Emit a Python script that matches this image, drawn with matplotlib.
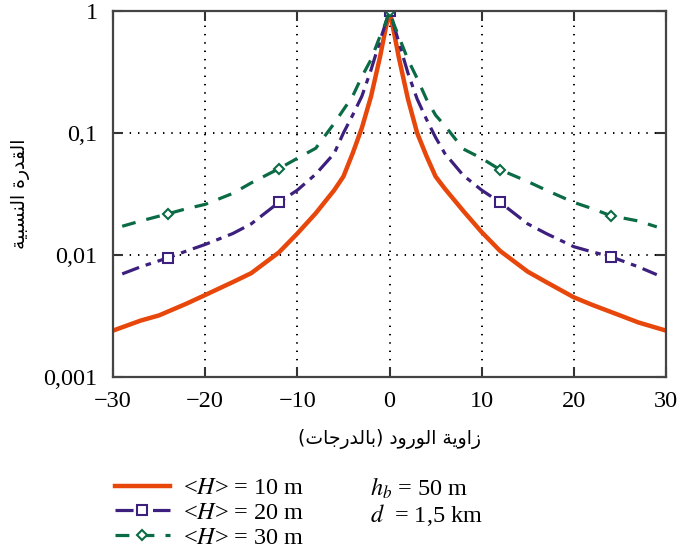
import numpy as np
import matplotlib
matplotlib.use("Agg")
import matplotlib.pyplot as plt
from matplotlib.ticker import FixedLocator, FixedFormatter, NullLocator

plt.rcParams['font.family'] = ['Liberation Serif', 'DejaVu Sans']
plt.rcParams['mathtext.fontset'] = 'stix'
plt.rcParams['lines.scale_dashes'] = False

# relative power vs incidence angle, for three mean building heights
angles_10 = [-30, -27, -25, -22, -20, -17, -15, -12, -10, -8, -6, -5, -4, -3, -2, -1, -0.5, 0,
             0.5, 1, 2, 3, 4, 5, 6, 8, 10, 12, 15, 17, 20, 22, 25, 27, 30]
power_10 = [0.0024, 0.0029, 0.0032, 0.0040, 0.0047, 0.0060, 0.0071, 0.0105, 0.0150, 0.022,
            0.034, 0.044, 0.068, 0.11, 0.20, 0.43, 0.67, 1.0,
            0.66, 0.42, 0.19, 0.10, 0.065, 0.044, 0.035, 0.023, 0.0154, 0.0108,
            0.0073, 0.0060, 0.0045, 0.0039, 0.0032, 0.0028, 0.0024]

angles_20 = [-29, -27, -24, -22, -20, -17, -15, -12, -10, -8, -6, -5, -4, -3, -2, -1, -0.5, 0,
             0.5, 1, 2, 3, 4, 5, 6, 8, 10, 12, 15, 17, 20, 22, 24, 27, 29]
power_20 = [0.0070, 0.0080, 0.0095, 0.0108, 0.0122, 0.0150, 0.018, 0.027, 0.034, 0.046,
            0.068, 0.10, 0.14, 0.20, 0.33, 0.58, 0.76, 1.0,
            0.75, 0.56, 0.31, 0.19, 0.13, 0.092, 0.068, 0.045, 0.034, 0.027,
            0.018, 0.0150, 0.0117, 0.0106, 0.0097, 0.0080, 0.0069]

angles_30 = angles_20
power_30 = [0.0172, 0.019, 0.0218, 0.024, 0.026, 0.032, 0.039, 0.051, 0.062, 0.075,
            0.12, 0.155, 0.20, 0.29, 0.40, 0.63, 0.77, 1.0,
            0.77, 0.62, 0.40, 0.28, 0.19, 0.14, 0.115, 0.074, 0.062, 0.050,
            0.040, 0.034, 0.027, 0.024, 0.021, 0.019, 0.017]

marker_angles = [-24, -12, 0, 12, 24]

x_ticks = [-30, -20, -10, 0, 10, 20, 30]
x_ticklabels = ['\u221230', '\u221220', '\u221210', '0', '10', '20', '30']
y_ticks = [0.001, 0.01, 0.1, 1]
y_ticklabels = ['0,001', '0,01', '0,1', '1']

labels = ['<$H$> = 10 m', '<$H$> = 20 m', '<$H$> = 30 m']

# Arabic labels, pre-shaped (presentation forms, visual order)
ylabel_ar = '\uFE94\uFEF4\uFE92\uFEB4\uFEE8\uFEDF\uFE8D \uFE93\uFEAD\uFEAA\uFED8\uFEDF\uFE8D'
xlabel_ar = ('(\uFE95\uFE8E\uFE9F\uFEAD\uFEAA\uFEDF\uFE8E\uFE91) '
             '\uFEA9\uFEED\uFEAD\uFEEE\uFEDF\uFE8D '
             '\uFE94\uFEF3\uFEED\uFE8D\uFEAF')

c_orange = '#E8470C'
c_purple = '#3D1F7E'
c_green = '#0A6B45'

fig = plt.figure(figsize=(6.78, 5.51), dpi=100)
ax = fig.add_axes([113 / 678, 1 - 377 / 551, 553 / 678, 366 / 551])

def mark_idx(angles):
    return list(np.where(np.isin(angles, marker_angles))[0])

l1, = ax.plot(angles_10, power_10, color=c_orange, lw=3.2, solid_joinstyle='round')
l2, = ax.plot(angles_20, power_20, color=c_purple, lw=2.3,
              marker='s', ms=7, mfc='white', mec=c_purple, mew=1.5,
              markevery=mark_idx(angles_20))
l2.set_dashes((13, 5, 4, 5))
l3, = ax.plot(angles_30, power_30, color=c_green, lw=2.3,
              marker='D', ms=5, mfc='white', mec=c_green, mew=1.5,
              markevery=mark_idx(angles_30))
l3.set_dashes((10, 8))

ax.set_yscale('log')
ax.set_xlim(-30, 30)
ax.set_ylim(0.001, 1)
ax.xaxis.set_major_locator(FixedLocator(x_ticks))
ax.xaxis.set_major_formatter(FixedFormatter(x_ticklabels))
ax.yaxis.set_major_locator(FixedLocator(y_ticks))
ax.yaxis.set_major_formatter(FixedFormatter(y_ticklabels))
ax.yaxis.set_minor_locator(NullLocator())

ax.grid(True, which='major', color='black', lw=1.4, linestyle=(0, (1, 5)))
ax.tick_params(direction='in', length=7, width=1.5, top=True, right=True,
               labelsize=17.5, color='#333333')
ax.tick_params(axis='x', pad=10)
ax.tick_params(axis='y', pad=11)
for sp in ax.spines.values():
    sp.set_linewidth(1.6)
    sp.set_color('#444444')

ax.set_xlabel(xlabel_ar, family='DejaVu Sans', fontsize=13.5, labelpad=12)
ax.set_ylabel(ylabel_ar, family='DejaVu Sans', fontsize=13.5, labelpad=10)

leg = fig.legend([l1, l2, l3], labels, loc='upper left',
                 bbox_to_anchor=(115 / 678, 1 - 477 / 551),
                 frameon=False, fontsize=17.5, handlelength=2.25, handletextpad=0.55,
                 labelspacing=0.12, numpoints=1, borderpad=0.0, borderaxespad=0)

fig.text(370 / 678, 1 - 488 / 551, '$h_b$ = 50 m', fontsize=17.5, va='center')
fig.text(370 / 678, 1 - 515 / 551, '$d$  = 1,5 km', fontsize=17.5, va='center')

fig.savefig('out.png', dpi=100)
